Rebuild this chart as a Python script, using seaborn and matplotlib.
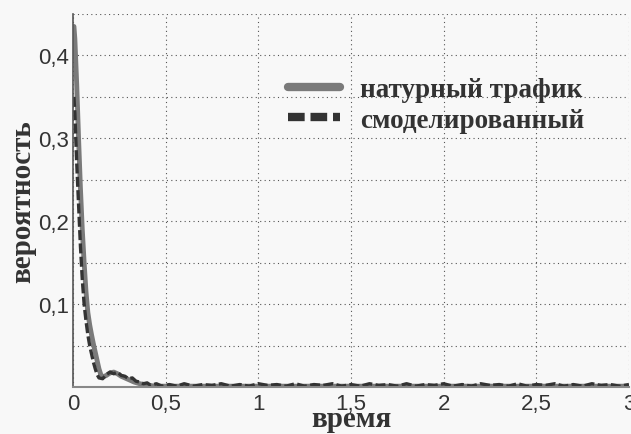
import numpy as np
import pandas as pd
import matplotlib
matplotlib.use('Agg')
import matplotlib.pyplot as plt
import matplotlib.ticker as mticker
import seaborn as sns

# данные
t_nat = [0.005, 0.01, 0.02, 0.03, 0.04, 0.05, 0.06, 0.07, 0.08, 0.09, 0.10,
         0.11, 0.12, 0.13, 0.14, 0.15, 0.16, 0.18, 0.20, 0.22, 0.24, 0.26,
         0.28, 0.30, 0.33, 0.36, 0.40, 0.45, 0.50, 1.0, 1.5, 2.0, 2.5, 3.0]
p_nat = [0.435, 0.42, 0.365, 0.30, 0.24, 0.19, 0.15, 0.115, 0.09, 0.075, 0.063,
         0.052, 0.042, 0.032, 0.022, 0.015, 0.012, 0.014, 0.017, 0.018, 0.016, 0.013,
         0.011, 0.009, 0.006, 0.004, 0.002, 0.001, 0.001, 0.001, 0.001, 0.001, 0.001, 0.001]

t_mod = [0.005, 0.01, 0.02, 0.03, 0.04, 0.05, 0.06, 0.07, 0.08, 0.09, 0.10,
         0.11, 0.12, 0.13, 0.14, 0.16, 0.18, 0.20, 0.22, 0.24, 0.26, 0.28,
         0.30, 0.32, 0.34, 0.36, 0.38, 0.40, 0.42, 0.45, 0.48, 0.52, 0.56,
         0.60, 0.65, 0.70, 0.75, 0.80, 0.85, 0.90, 0.95, 1.00, 1.05, 1.10,
         1.15, 1.20, 1.25, 1.30, 1.35, 1.40, 1.45, 1.50, 1.55, 1.60, 1.65,
         1.70, 1.75, 1.80, 1.85, 1.90, 1.95, 2.00, 2.05, 2.10, 2.15, 2.20,
         2.25, 2.30, 2.35, 2.40, 2.45, 2.50, 2.55, 2.60, 2.65, 2.70, 2.75,
         2.80, 2.85, 2.90, 2.95, 3.00]
p_mod = [0.35, 0.33, 0.27, 0.22, 0.17, 0.13, 0.10, 0.08, 0.063, 0.05, 0.04,
         0.03, 0.022, 0.015, 0.011, 0.010, 0.015, 0.018, 0.016, 0.018, 0.014, 0.013,
         0.010, 0.011, 0.007, 0.006, 0.004, 0.005, 0.002, 0.004, 0.001, 0.003, 0.001,
         0.004, 0.001, 0.003, 0.002, 0.004, 0.001, 0.003, 0.001, 0.004, 0.002, 0.003,
         0.001, 0.004, 0.001, 0.003, 0.002, 0.004, 0.001, 0.003, 0.001, 0.004, 0.002,
         0.003, 0.001, 0.004, 0.001, 0.003, 0.002, 0.004, 0.001, 0.003, 0.001, 0.004,
         0.002, 0.003, 0.001, 0.004, 0.001, 0.003, 0.002, 0.004, 0.001, 0.003, 0.001,
         0.004, 0.002, 0.003, 0.001, 0.003]

lbl_nat = 'натурный трафик'
lbl_mod = 'смоделированный'
xticks = [0, 0.5, 1, 1.5, 2, 2.5, 3]
xtick_labels = ['0', '0,5', '1', '1,5', '2', '2,5', '3']
yticks = [0.1, 0.2, 0.3, 0.4]
ytick_labels = ['0,1', '0,2', '0,3', '0,4']

sns.set_theme(style='white')
bg = '#f8f8f8'
fig = plt.figure(figsize=(6.31, 4.35), dpi=100, facecolor=bg)
ax = fig.add_axes([0.1157, 0.108, 0.881, 0.8575], facecolor=bg)

sns.lineplot(x=t_nat, y=p_nat, ax=ax, color='#7a7a7a', lw=3.5, label=lbl_nat)
sns.lineplot(x=t_mod, y=p_mod, ax=ax, color='#333333', lw=2.4, label=lbl_mod)
ax.lines[1].set_dashes((3, 1))

ax.set_xlim(0, 3)
ax.set_ylim(0, 0.45)
ax.set_xticks(xticks)
ax.set_xticklabels(xtick_labels)
ax.set_yticks(yticks)
ax.set_yticklabels(ytick_labels)
ax.yaxis.set_minor_locator(mticker.MultipleLocator(0.05))
ax.grid(True, which='both', axis='y', ls=(0, (1, 3)), color='#555555', lw=0.8)
ax.grid(True, which='major', axis='x', ls=(0, (1, 3)), color='#555555', lw=0.8)

for s in ['top', 'right']:
    ax.spines[s].set_visible(False)
ax.spines['left'].set_color('#555555')
ax.spines['bottom'].set_color('#888888')
ax.spines['left'].set_linewidth(1.2)
ax.spines['bottom'].set_linewidth(1.5)

ax.tick_params(axis='both', labelsize=16, colors='#333333', length=0)
ax.tick_params(axis='y', pad=3)
ax.tick_params(axis='x', pad=4)
for t in ax.get_xticklabels() + ax.get_yticklabels():
    t.set_family('Liberation Sans')

ax.set_xlabel('время', family='Liberation Serif', fontweight='bold',
              fontsize=21, color='#333333', labelpad=-6)
ax.set_ylabel('вероятность', family='Liberation Serif', fontweight='bold',
              fontsize=21, color='#333333', labelpad=1)

leg = ax.legend(loc='upper left', bbox_to_anchor=(0.387, 0.83), frameon=False,
                prop={'family': 'Liberation Serif', 'weight': 'bold', 'size': 19.5},
                handlelength=1.9, handletextpad=0.75, labelspacing=0.2,
                borderpad=0, borderaxespad=0)
for txt in leg.get_texts():
    txt.set_color('#333333')
leg.get_lines()[0].set_linewidth(6)
leg.get_lines()[1].set_linewidth(6)
leg.get_lines()[1].set_dashes((2, 0.7))

fig.savefig('out.png', dpi=100, facecolor=bg)
